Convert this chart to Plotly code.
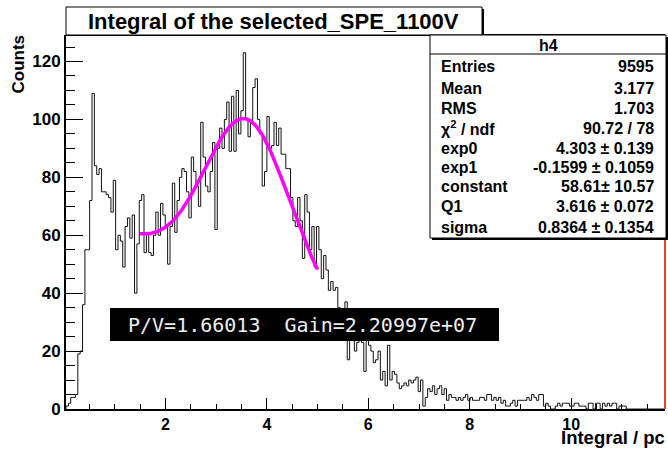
import numpy as np
import plotly.graph_objects as go

# ---------------- data ----------------
bin_start = 0.04
bin_width = 0.0466
counts = [
    1, 2, 4, 4, 5, 19, 20, 36, 55, 55, 72, 109, 84, 81, 83, 75, 75, 74, 73, 68,
    79, 55, 60, 58, 49, 63, 66, 59, 67, 40, 57, 72, 74, 54, 61, 54, 53, 60, 68, 60,
    71, 67, 63, 50, 63, 78, 61, 72, 80,
    83, 82, 75, 66, 87, 82, 77, 70, 99, 87, 77, 75, 82, 92, 62, 90, 97, 90, 100, 106,
    89, 108, 89, 110, 95, 103, 123, 100, 94, 99, 111, 114, 100, 95, 77, 82, 101, 90, 91, 99,
    91, 97, 88, 88, 83, 83, 73, 65, 63, 73, 65, 52,
    74, 68, 55, 63, 49, 63, 55, 45, 53, 48, 41, 44, 41, 42, 35, 33, 30, 37, 17, 25,
    28, 20, 23, 25, 23, 13, 24, 22, 20, 16, 17, 20, 10, 13, 8, 22, 10, 13, 12, 9, 7, 8,
    9, 8, 10, 9, 10, 11, 6, 10, 1, 4, 7, 6, 8, 5, 7, 8, 5, 7, 3, 5,
    4, 4, 3, 4, 3, 4, 5, 3, 4, 3, 3, 3, 4, 4, 3, 5, 5, 3, 4, 3,
    4, 2, 3, 1, 1, 2, 3, 1, 3, 3, 3, 3, 4, 3, 5, 4, 3, 5, 5, 1,
    2, 1, 0, 0, 1, 2, 1, 2, 2, 2, 1, 1, 2, 2, 1, 1, 1, 0, 2, 2,
    0, 2, 2, 0, 2, 1, 2, 1, 2, 2, 0, 1, 1, 1, 0,
    0, 0, 0, 0, 0, 0, 0, 0, 0, 0, 0, 0, 0, 0, 0,
]

# fit: expo + gaus, parameters from the stats box
fit_lo, fit_hi = 1.5, 5.0
exp0, exp1 = 4.303, -0.1599
constant, q1, sigma = 58.61, 3.616, 0.8364

title_text = "Integral of the selected_SPE_1100V"
stat_header = "h4"
stat_labels = ["Entries", "Mean", "RMS", "χ<sup>2</sup> / ndf", "exp0", "exp1",
               "constant", "Q1", "sigma"]
stat_values = ["9595", "3.177", "1.703", "90.72 / 78", "4.303 ± 0.139",
               "-0.1599 ± 0.1059", "58.61± 10.57", "3.616 ± 0.072", "0.8364 ± 0.1354"]
pv_text = "P/V=1.66013  Gain=2.20997e+07"
x_title = "Integral / pc"
y_title = "Counts"
x_tickvals = [2, 4, 6, 8, 10]

# ---------------- geometry helpers (pixels -> paper) ----------------
W, H = 668, 449
L, R, T, B = 66, 665, 35, 409


def px(x):
    return (x - L) / (R - L)


def py(y):
    return (B - y) / (B - T)


# ---------------- traces ----------------
n = len(counts)
edges = [bin_start + bin_width * i for i in range(n + 1)]
hx = [edges[0]] + edges[:n] + [edges[n]]
hy = [0] + counts + [counts[-1]]

fx = np.linspace(fit_lo, fit_hi, 300)
fy = np.exp(exp0 + exp1 * fx) + constant * np.exp(-0.5 * ((fx - q1) / sigma) ** 2)

fig = go.Figure()
fig.add_trace(go.Scatter(x=hx, y=hy, mode="lines", line=dict(color="#111", width=1, shape="hv"),
                         hoverinfo="skip"))
fig.add_trace(go.Scatter(x=fx, y=fy, mode="lines", line=dict(color="#ff00ff", width=3.5),
                         hoverinfo="skip"))

FONT = "Liberation Sans, Arial, sans-serif"
fig.update_layout(
    width=W, height=H,
    margin=dict(l=L, r=W - R, t=T, b=H - B),
    paper_bgcolor="white", plot_bgcolor="white",
    showlegend=False,
    font=dict(family=FONT, color="black"),
)
fig.update_xaxes(
    range=[edges[0], 11.85], showgrid=False, zeroline=False,
    showline=True, linecolor="black", linewidth=2,
    ticks="inside", ticklen=11, tickwidth=1, tickcolor="black",
    tickvals=x_tickvals,
    tickfont=dict(family=FONT, size=16, weight="bold"),
    minor=dict(ticks="inside", ticklen=5, tickwidth=1, tickcolor="black",
               dtick=0.5, tick0=0, showgrid=False),
)
fig.update_yaxes(
    range=[0, 129.15], showgrid=False, zeroline=False,
    showline=True, linecolor="black", linewidth=2,
    ticks="inside", ticklen=17, tickwidth=1, tickcolor="black",
    dtick=20, tick0=0,
    tickfont=dict(family=FONT, size=17, weight="bold"),
    minor=dict(ticks="inside", ticklen=9, tickwidth=1, tickcolor="black",
               dtick=5, tick0=0, showgrid=False),
)

shapes = []
# frame top and right (red) edges
shapes.append(dict(type="line", xref="paper", yref="paper", x0=0, x1=1, y0=1, y1=1,
                   line=dict(color="black", width=2)))
shapes.append(dict(type="line", xref="paper", yref="paper", x0=1, x1=1, y0=0, y1=1,
                   line=dict(color="#e00000", width=1.5)))
# title box with shadow
shapes.append(dict(type="rect", xref="paper", yref="paper", x0=px(68), x1=px(484), y0=py(36), y1=py(9),
                   fillcolor="black", line=dict(width=0), layer="above"))
shapes.append(dict(type="rect", xref="paper", yref="paper", x0=px(66), x1=px(482), y0=py(35), y1=py(7),
                   fillcolor="white", line=dict(color="black", width=1), layer="above"))
# stats box with shadow
shapes.append(dict(type="rect", xref="paper", yref="paper", x0=px(432), x1=px(668), y0=py(240), y1=py(37),
                   fillcolor="black", line=dict(width=0), layer="above"))
shapes.append(dict(type="rect", xref="paper", yref="paper", x0=px(430), x1=px(666), y0=py(238), y1=py(35),
                   fillcolor="white", line=dict(color="black", width=1), layer="above"))
shapes.append(dict(type="line", xref="paper", yref="paper", x0=px(430), x1=px(666), y0=py(54), y1=py(54),
                   line=dict(color="black", width=1), layer="above"))
# P/V box
shapes.append(dict(type="rect", xref="paper", yref="paper", x0=px(110), x1=px(499), y0=py(341), y1=py(308),
                   fillcolor="black", line=dict(width=0), layer="above"))
fig.update_layout(shapes=shapes)

ann = []
ann.append(dict(xref="paper", yref="paper", x=px(273), y=py(21), text=title_text, showarrow=False,
                xanchor="center", yanchor="middle",
                font=dict(family=FONT, size=22, weight="bold", color="black")))
ann.append(dict(xref="paper", yref="paper", x=px(548), y=py(45), text=stat_header, showarrow=False,
                xanchor="center", yanchor="middle",
                font=dict(family=FONT, size=16, weight="bold", color="black")))
row_y = [66, 88, 108, 128, 148, 167, 187, 207, 227]
for lab, val, yy in zip(stat_labels, stat_values, row_y):
    ann.append(dict(xref="paper", yref="paper", x=px(439), y=py(yy), text=lab, showarrow=False,
                    xanchor="left", yanchor="middle",
                    font=dict(family=FONT, size=16, weight="bold", color="black")))
    ann.append(dict(xref="paper", yref="paper", x=px(656), y=py(yy), text=val, showarrow=False,
                    xanchor="right", yanchor="middle",
                    font=dict(family=FONT, size=16, weight="bold", color="black")))
ann.append(dict(xref="paper", yref="paper", x=px(126), y=py(325), text=pv_text, showarrow=False,
                xanchor="left", yanchor="middle",
                font=dict(family="DejaVu Sans Mono, monospace", size=20, color="#eeeeee")))
ann.append(dict(xref="paper", yref="paper", x=px(666), y=py(437.5), text=x_title, showarrow=False,
                xanchor="right", yanchor="middle", borderpad=0,
                font=dict(family=FONT, size=18.5, weight="bold", color="black")))
ann.append(dict(xref="paper", yref="paper", x=px(18), y=py(33), text=y_title, showarrow=False,
                xanchor="center", yanchor="top", textangle=-90,
                font=dict(family=FONT, size=17, weight="bold", color="black")))
fig.update_layout(annotations=ann)

# the page body has a default 8px margin; remove it so the figure fills the window exactly
fig.write_html("out.html", config={"displayModeBar": False},
               post_script="document.body.style.margin='0';")
